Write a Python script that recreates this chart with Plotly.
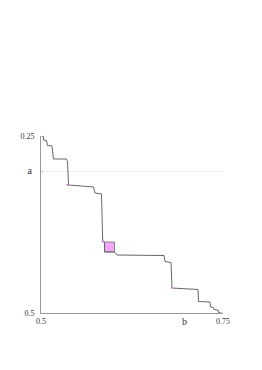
import plotly.graph_objects as go

# staircase boundary (b, a)
b_path = [0.5000, 0.5034, 0.5034, 0.5076, 0.5089, 0.5151, 0.5172, 0.5350, 0.5364, 0.5378,
          0.5721, 0.5742, 0.5831, 0.5848, 0.5872, 0.5872, 0.6010, 0.6044, 0.6690, 0.6703,
          0.6786, 0.6799, 0.7157, 0.7163, 0.7321, 0.7328, 0.7369, 0.7376, 0.7431, 0.7438, 0.7500]
a_path = [0.2493, 0.2507, 0.2556, 0.2564, 0.2634, 0.2641, 0.2825, 0.2825, 0.2860, 0.3192,
          0.3220, 0.3305, 0.3319, 0.3990, 0.3997, 0.4138, 0.4138, 0.4181, 0.4188, 0.4273,
          0.4287, 0.4647, 0.4668, 0.4838, 0.4845, 0.4915, 0.4922, 0.4951, 0.4958, 0.4993, 0.5007]

# highlighted square region
sq_b = [0.5872, 0.6010, 0.6010, 0.5872, 0.5872]
sq_a = [0.3997, 0.3997, 0.4138, 0.4138, 0.3997]

# small highlighted cells
pt_b = [0.5848, 0.5364, 0.6806]
pt_a = [0.3990, 0.3192, 0.4647]

a_ref = 0.30
y_tickvals = [0.25, a_ref, 0.5]
y_ticktext = ["0.25", "<span style='font-size:10px'>a </span>", "0.5"]
x_tickvals = [0.5, 0.75]
x_ticktext = ["0.5", "0.75"]

fig = go.Figure()
fig.add_trace(go.Scatter(x=sq_b, y=sq_a, mode="lines", fill="toself",
                         fillcolor="#f2a6f7", line=dict(color="#888888", width=1),
                         hoverinfo="skip", showlegend=False))
fig.add_trace(go.Scatter(x=b_path, y=a_path, mode="lines",
                         line=dict(color="#666666", width=1),
                         showlegend=False))
fig.add_trace(go.Scatter(x=pt_b, y=pt_a, mode="markers",
                         marker=dict(symbol="square", size=2, color="#c98fd6",
                                     line=dict(width=0)),
                         showlegend=False))

fig.update_layout(
    width=262, height=370,
    margin=dict(l=33, r=47, t=128, b=65),
    paper_bgcolor="white", plot_bgcolor="white",
    font=dict(family="Liberation Serif", color="#333333", size=8),
    xaxis=dict(range=[0.5, 0.75], tickvals=x_tickvals, ticktext=x_ticktext,
               showgrid=False, zeroline=False, showline=True, linecolor="#999999",
               linewidth=1, ticks="", ticklabelstandoff=0, tickfont=dict(size=8)),
    yaxis=dict(range=[0.5, 0.25], tickvals=y_tickvals, ticktext=y_ticktext,
               showgrid=False, zeroline=False, showline=True, linecolor="#999999",
               linewidth=1, ticks="", ticklabelstandoff=4, tickfont=dict(size=8),
               minor=dict(tickvals=[a_ref], showgrid=True, gridcolor="#f0f0f0",
                          ticks="inside", ticklen=2, tickcolor="#bbbbbb")),
    annotations=[dict(text="b", xref="paper", yref="paper", x=0.813, y=0,
                      yshift=-16, showarrow=False, font=dict(size=10))],
)

fig.write_html("out.html")
